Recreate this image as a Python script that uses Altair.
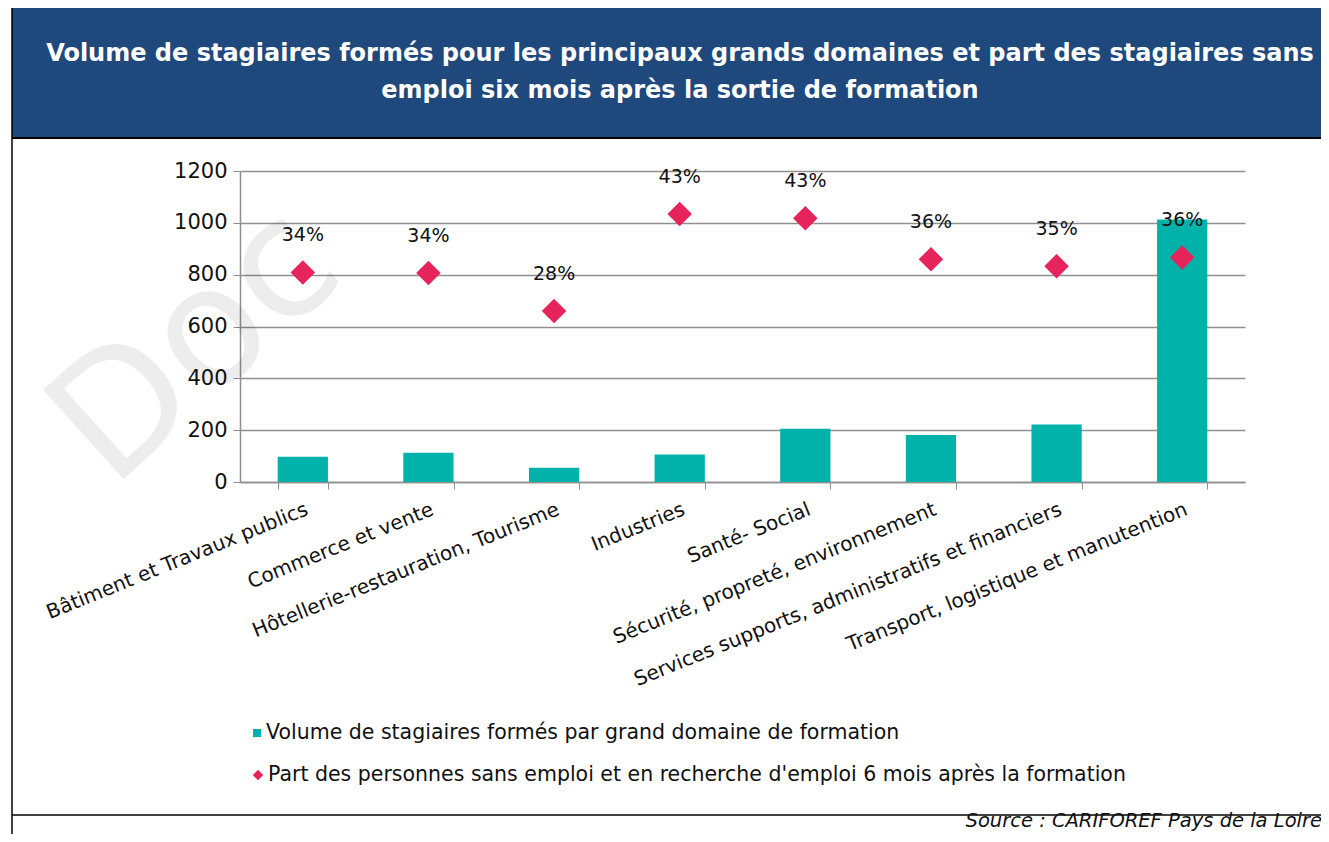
import altair as alt
import pandas as pd

categories = [
    "Bâtiment et Travaux publics",
    "Commerce et vente",
    "Hôtellerie-restauration, Tourisme",
    "Industries",
    "Santé- Social",
    "Sécurité, propreté, environnement",
    "Services supports, administratifs et financiers",
    "Transport, logistique et manutention",
]
volumes = [97, 113, 55, 106, 205, 181, 222, 1013]
parts = [0.337, 0.336, 0.275, 0.431, 0.424, 0.358, 0.347, 0.361]
part_labels = ["34%", "34%", "28%", "43%", "43%", "36%", "35%", "36%"]

title_lines = [
    "Volume de stagiaires formés pour les principaux grands domaines et part des stagiaires sans",
    "emploi six mois après la sortie de formation",
]
legend_names = [
    "Volume de stagiaires formés par grand domaine de formation",
    "Part des personnes sans emploi et en recherche d'emploi 6 mois après la formation",
]
source_text = "Source : CARIFOREF Pays de la Loire"
watermark_text = "Doc"

TEAL = "#00B2A9"
RED = "#E6235A"
BLUE = "#1F497D"
GRID = "#8F8F8F"
FONT = "DejaVu Sans"

df = pd.DataFrame({"cat": categories, "vol": volumes, "part": parts, "lab": part_labels})
one = alt.Data(values=[{"k": 0}])

x_enc = alt.X(
    "cat:N",
    sort=categories,
    title=None,
    scale=alt.Scale(paddingInner=0.6, paddingOuter=0.3),
    axis=alt.Axis(
        tickBand="extent",
        labelAngle=-22,
        labelAlign="right",
        labelBaseline="top",
        labelFont=FONT,
        labelFontSize=20,
        labelColor="#111",
        labelLimit=700,
        labelPadding=10,
        tickSize=7,
        tickColor=GRID,
        domainColor=GRID,
        domainWidth=1.5,
        grid=False,
    ),
)

bars = alt.Chart(df).mark_bar(color=TEAL).encode(
    x=x_enc,
    y=alt.Y(
        "vol:Q",
        title=None,
        scale=alt.Scale(domain=[0, 1200]),
        axis=alt.Axis(
            values=[0, 200, 400, 600, 800, 1000, 1200],
            format="d",
            orient="left",
            grid=True,
            gridColor=GRID,
            gridWidth=1.5,
            domainColor=GRID,
            domainWidth=1.5,
            tickColor=GRID,
            tickSize=7,
            labelFont=FONT,
            labelFontSize=21,
            labelColor="#111",
            labelPadding=6,
        ),
    ),
)

y_part = alt.Y(
    "part:Q",
    title=None,
    scale=alt.Scale(domain=[0, 0.5]),
    axis=alt.Axis(
        values=[0, 0.1, 0.2, 0.3, 0.4, 0.5],
        format=".0%",
        orient="right",
        grid=False,
        domainColor=GRID,
        domainWidth=1.5,
        tickColor=GRID,
        tickSize=7,
        labelFont=FONT,
        labelFontSize=21,
        labelColor="#111",
        labelPadding=9,
    ),
)

points = alt.Chart(df).mark_point(shape="diamond", filled=True, size=600, color=RED, opacity=1).encode(
    x=alt.X("cat:N", sort=categories),
    y=y_part,
)
labels = alt.Chart(df).mark_text(font=FONT, fontSize=19, color="#111", dy=-37, baseline="middle").encode(
    x=alt.X("cat:N", sort=categories),
    y=alt.Y("part:Q", axis=None),
    text="lab:N",
)
pct = alt.layer(points, labels)

# decorations (pixel positions relative to the plot area)
watermark = alt.Chart(one).mark_text(
    font=FONT, fontSize=165, color="#000", opacity=0.065, angle=318, align="left", baseline="bottom"
).encode(x=alt.value(-105), y=alt.value(345), text=alt.value(watermark_text))

banner = alt.Chart(one).mark_rect(color=BLUE).encode(
    x=alt.value(-228), x2=alt.value(1100), y=alt.value(-163), y2=alt.value(-33)
)
banner_line = alt.Chart(one).mark_rule(color="#000", strokeWidth=2).encode(
    x=alt.value(-228), x2=alt.value(1100), y=alt.value(-33)
)
left_border = alt.Chart(one).mark_rule(color="#000", strokeWidth=1.5).encode(
    x=alt.value(-228), y=alt.value(-163), y2=alt.value(700)
)
bottom_line = alt.Chart(one).mark_rule(color="#000", strokeWidth=1.5).encode(
    x=alt.value(-228), x2=alt.value(1100), y=alt.value(644)
)
title1 = alt.Chart(one).mark_text(font=FONT, fontSize=24, fontWeight="bold", color="white").encode(
    x=alt.value(440), y=alt.value(-117), text=alt.value(title_lines[0])
)
title2 = alt.Chart(one).mark_text(font=FONT, fontSize=24, fontWeight="bold", color="white").encode(
    x=alt.value(440), y=alt.value(-80), text=alt.value(title_lines[1])
)
leg_sq = alt.Chart(one).mark_point(shape="square", filled=True, size=64, color=TEAL, opacity=1).encode(
    x=alt.value(17), y=alt.value(562)
)
leg_dm = alt.Chart(one).mark_point(shape="diamond", filled=True, size=110, color=RED, opacity=1).encode(
    x=alt.value(18), y=alt.value(604)
)
leg_t1 = alt.Chart(one).mark_text(font=FONT, fontSize=20.5, color="#111", align="left", baseline="middle").encode(
    x=alt.value(26), y=alt.value(562), text=alt.value(legend_names[0])
)
leg_t2 = alt.Chart(one).mark_text(font=FONT, fontSize=20.5, color="#111", align="left", baseline="middle").encode(
    x=alt.value(28), y=alt.value(604), text=alt.value(legend_names[1])
)
source = alt.Chart(one).mark_text(font=FONT, fontSize=19.5, fontStyle="italic", color="#111", align="right", baseline="middle").encode(
    x=alt.value(1082), y=alt.value(650), text=alt.value(source_text)
)

chart = alt.layer(
    watermark, banner, banner_line, left_border, bottom_line, title1, title2,
    bars, pct,
    leg_sq, leg_dm, leg_t1, leg_t2, source,
).resolve_scale(y="independent").properties(
    width=1005,
    height=311,
    autosize=alt.AutoSizeParams(type="none"),
    padding={"left": 232, "top": 163, "right": 76, "bottom": 352},
    background="white",
).configure_view(strokeWidth=0)

chart.save("out.html", embed_options={"renderer": "svg", "actions": False})
